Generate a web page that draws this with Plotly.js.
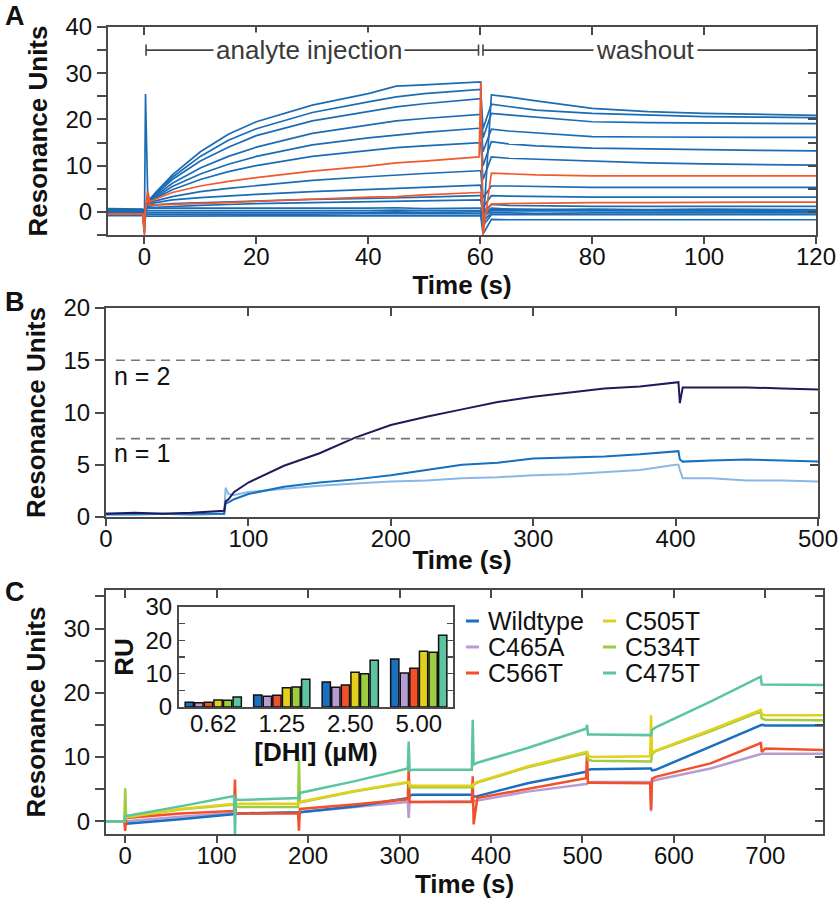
<!DOCTYPE html>
<html><head><meta charset="utf-8">
<script src="https://cdn.plot.ly/plotly-3.0.1.min.js"></script>
<style>html,body{margin:0;padding:0;background:#fff}#chart{width:838px;height:900px}</style>
</head><body><div id="chart"></div>
<script>
// ---------- Panel A: SPR sensorgrams (time in s, RU) ----------
const tA = [-6.5,-0.3,0,0.2,0.6,1,2,5,10,15,20,30,40,45,50,59.8,60.1,60.5,62,65,70,80,90,100,110,120];
const a1  = [0.5,0.4,-4.5,25.5,3,2.8,4.2,8,13,16.8,19.5,23.1,25.6,27.2,27.5,28.1,28.1,-4,25.3,24.9,24.0,22.4,21.7,21.3,21.1,20.9];
const a2  = [-0.2,-0.3,-1,1,2.5,2.7,4.0,7.5,12,15.5,18,21.5,23.8,24.9,25.6,26.5,26.5,18,23.3,22.8,22.0,21.3,20.9,20.6,20.5,20.4];
const a3  = [0.3,0.2,-0.5,0.5,2.4,2.6,3.8,7,11,14,16.5,19.7,21.8,22.7,23.4,24.5,24.5,16,21.3,21.0,20.5,19.5,19.3,19.2,19.1,19.1];
const a4  = [-0.4,-0.4,-0.8,0.3,2.3,2.5,3.5,6.2,9.5,12,14,17,18.9,19.7,20.2,21.1,21.1,13,17.9,17.5,17.1,16.3,16.2,16.1,16.1,16.1];
const a5  = [0.1,0.0,-0.6,0.4,2.2,2.4,3.2,5.5,8.2,10.3,12,14.5,16,16.6,17.2,18.1,18.1,10,15.2,14.7,14.3,13.8,13.6,13.4,13.3,13.2];
const a6  = [-0.6,-0.5,-0.7,0.2,2.1,2.3,3.0,4.8,7,8.7,10,12,13.3,13.9,14.3,15.0,15.0,7,11.9,11.6,11.4,10.9,10.6,10.4,10.2,10.1];
const a7  = [0.6,0.5,-0.3,0.5,1.9,2.0,2.4,3.3,4.4,5.1,5.7,6.8,7.6,8.0,8.3,8.9,8.9,3,5.6,5.6,5.5,5.3,5.3,5.3,5.3,5.3];
const a8  = [-0.1,-0.2,-0.4,0.3,1.7,1.8,2.0,2.6,3.1,3.5,3.8,4.4,4.9,5.1,5.4,5.8,5.8,1,3.5,3.4,3.3,3.2,3.2,3.2,3.2,3.2];
const a9  = [0.2,0.1,-0.5,0.3,1.2,1.3,1.5,1.8,2.0,2.2,2.4,2.7,2.9,3.0,3.2,3.5,3.5,0,1.6,1.4,1.3,1.2,1.2,1.2,1.2,1.2];
const a10 = [-0.3,-0.3,-0.6,0.2,0.9,1.0,1.0,1.2,1.4,1.6,1.8,2.0,2.2,2.3,2.4,2.6,2.6,-0.5,0.8,0.6,0.5,0.4,0.3,0.2,0.1,0.1];
const a11 = [0.7,0.6,0.2,0.6,0.8,0.8,0.7,0.7,0.7,0.8,0.7,0.7,0.8,0.9,0.7,0.8,0.8,-0.5,0.6,0.6,0.5,0.6,0.5,0.6,0.5,0.5];
const a12 = [0.3,0.3,-0.8,0.2,0.3,0.3,0.3,0.3,0.3,0.3,0.2,0.3,0.3,0.4,0.3,0.3,0.3,-1,0.2,0.2,0.2,0.1,0.2,0.1,0.2,0.2];
const a13 = [-0.1,-0.1,-1.5,-0.2,-0.1,-0.1,-0.1,-0.2,-0.1,-0.1,-0.2,-0.1,-0.1,0,-0.1,0,0,-2,-0.2,-0.2,-0.3,-0.2,-0.2,-0.3,-0.2,-0.2];
const a14 = [-0.5,-0.5,-2.5,-0.6,-0.5,-0.5,-0.5,-0.5,-0.6,-0.5,-0.5,-0.5,-0.4,-0.4,-0.5,-0.4,-0.4,-3,-0.6,-0.6,-0.6,-0.6,-0.6,-0.7,-0.6,-0.6];
const a15 = [-0.8,-0.8,-4.5,-0.9,-0.9,-0.9,-0.9,-0.9,-0.9,-0.9,-0.9,-0.9,-0.8,-0.8,-0.8,-0.8,-0.8,-4.8,-1.6,-1.7,-1.7,-1.7,-1.7,-1.8,-1.7,-1.7];
const aRed1 = [-0.5,-0.5,-5,1,4.5,2.2,2.8,4.2,5.6,6.6,7.4,8.8,9.9,10.6,11.0,11.9,28,-5,8.4,8.2,8.0,7.8,7.8,7.8,7.8,7.8];
const aRed2 = [-0.4,-0.4,-2,0.5,3.0,1.5,1.5,1.6,1.8,2.0,2.3,2.8,3.2,3.3,3.7,4.2,4.2,-1,1.7,1.8,1.9,2.0,2.0,2.1,2.1,2.1];
const phaseStart = [0.3, 60.5];
const phaseEnd   = [59.7, 120];
const phaseLabel = ['analyte injection', 'washout'];
const phaseLabelX = [29.5, 89.6];
const phaseY = 35;

// ---------- Panel B ----------
const tB = [0,20,40,60,83,84,86,90,100,125,150,175,200,225,250,275,300,325,350,375,400,402,403,405,425,450,475,500];
const bNavy  = [0.3,0.4,0.3,0.4,0.6,1.5,1.7,2.4,3.3,4.9,6.1,7.6,8.8,9.6,10.3,11.0,11.5,11.9,12.3,12.5,12.9,12.9,10.9,12.4,12.4,12.4,12.3,12.2];
const bMid   = [0.3,0.3,0.3,0.3,0.3,1.3,1.4,1.7,2.2,2.9,3.3,3.6,4.0,4.5,5.0,5.2,5.6,5.7,5.8,6.0,6.3,6.3,5.5,5.3,5.4,5.5,5.4,5.3];
const bLight = [0.2,0.2,0.3,0.2,0.3,2.8,2.2,2.1,2.4,2.7,3.0,3.2,3.4,3.5,3.7,3.8,4.0,4.1,4.3,4.5,5.0,5.0,4.5,3.7,3.7,3.5,3.5,3.4];
const refLevels = [15, 7.5];
const refLabels = ['n = 2', 'n = 1'];
const refLabelY = [13.5, 6.1];

// ---------- Panel C ----------
const tC = [-21,-1,0,1,60,119,120,121,125,189,190,191,250,309,310,311,315,379,380,381,385,440,504,505,506,510,574,575,576,580,640,694,695,696,700,763];
const seriesNames = ['Wildtype','C465A','C566T','C505T','C534T','C475T'];
const cWildtype = [0,0,-0.5,-0.4,0.3,1.0,1.0,1.1,1.2,1.3,1.3,1.4,2.3,3.6,3.6,4.0,4.1,4.1,4.0,3.8,3.9,5.9,7.7,7.7,8.0,8.1,8.2,8.2,7.9,8.0,11.6,15.0,15.0,15.0,14.9,14.9];
const cC465A    = [0,0,0,0,0.7,1.3,1.3,1.2,1.2,1.3,1.3,1.4,2.2,3.0,0.5,3.0,3.0,3.0,3.0,3.1,3.2,4.6,5.8,5.8,6.0,6.1,6.1,1.5,6.2,6.4,8.2,10.5,10.5,10.5,10.5,10.5];
const cC566T    = [0,0,-1.5,0.5,1.2,1.6,6.5,1.2,1.2,1.2,-1.5,1.9,2.6,3.4,8.3,3.0,3.0,3.0,7.0,-0.5,3.6,5.0,6.7,10.7,6.0,6.0,5.9,1.8,6.6,6.9,9.0,12.1,12.3,10.8,11.3,11.1];
const cC505T    = [0,0,0.3,0.6,1.9,2.7,2.7,2.6,2.7,2.7,2.7,3.0,4.7,6.1,6.1,5.6,5.5,5.5,5.5,5.8,6.1,8.5,10.8,10.8,10.2,10.0,10.1,16.5,10.6,11.0,14.2,17.3,17.3,16.6,16.5,16.5];
const cC534T    = [0,0,5.1,0.6,1.8,2.6,2.6,2.3,2.2,2.2,9.6,2.9,4.6,6.0,6.0,5.3,5.3,5.3,5.3,5.7,6.0,8.4,10.6,10.6,9.6,9.4,9.3,9.3,10.4,10.9,14.0,17.1,17.1,16.0,15.8,15.7];
const cC475T    = [0,0,0.8,0.8,2.3,3.9,-2,3.4,3.3,3.6,3.6,4.4,6.2,8.2,12.4,7.9,8.0,8.0,15.8,8.8,9.1,11.4,14.4,15.0,13.5,13.5,13.4,13.4,14.2,14.6,18.6,22.5,22.5,21.3,21.3,21.2];
const seriesColors = ['#1a6fbf','#b99bd3','#f2502a','#e3d01c','#9ccd3e','#5cc5a0'];

// inset bars
const dhiLabels = ['0.62','1.25','2.50','5.00'];
const ruWildtype = [1.4,3.6,7.5,14.4];
const ruC465A    = [1.3,3.2,5.9,10.2];
const ruC566T    = [1.4,3.5,6.6,11.6];
const ruC505T    = [2.1,5.8,10.4,16.7];
const ruC534T    = [2.0,6.0,10.0,16.4];
const ruC475T    = [3.0,8.3,14.0,21.5];

// ---------- build ----------
const F = 'Liberation Sans, Arial, sans-serif';
const AX = '#4a4a4a';
const TXT = '#111';
const traces = [];

const aBlues = [a1,a2,a3,a4,a5,a6,a7,a8,a9,a10,a11,a12,a13,a14,a15];
aBlues.forEach(v => traces.push({type:'scatter',mode:'lines',x:tA,y:v,xaxis:'x',yaxis:'y',line:{color:'#1b6cb5',width:1.7},showlegend:false,hoverinfo:'skip'}));
[aRed1,aRed2].forEach(v => traces.push({type:'scatter',mode:'lines',x:tA,y:v,xaxis:'x',yaxis:'y',line:{color:'#f15a2b',width:1.7},showlegend:false,hoverinfo:'skip'}));

[[bLight,'#8ab8e6'],[bMid,'#1570be'],[bNavy,'#1f1b5b']].forEach(([v,c]) =>
  traces.push({type:'scatter',mode:'lines',x:tB,y:v,xaxis:'x3',yaxis:'y3',line:{color:c,width:2},showlegend:false,hoverinfo:'skip'}));

const cSeries = [cWildtype,cC465A,cC566T,cC505T,cC534T,cC475T];
const drawOrder = [1,0,2,4,3,5];
drawOrder.forEach(i => traces.push({type:'scatter',mode:'lines',x:tC,y:cSeries[i],xaxis:'x5',yaxis:'y5',name:seriesNames[i],line:{color:seriesColors[i],width:2.5},showlegend:false,hoverinfo:'skip'}));

const ruSeries = [ruWildtype,ruC465A,ruC566T,ruC505T,ruC534T,ruC475T];
ruSeries.forEach((v,i) => traces.push({type:'bar',x:dhiLabels,y:v,xaxis:'x7',yaxis:'y7',name:seriesNames[i],marker:{color:seriesColors[i],line:{color:'#111',width:1.5}},showlegend:false,hoverinfo:'skip'}));

// dummy traces to activate overlay (mirror-tick) axes
[['x2','y2'],['x4','y4'],['x6','y6'],['x7','y8']].forEach(([xa,ya]) =>
  traces.push({type:'scatter',mode:'lines',x:[null],y:[null],xaxis:xa,yaxis:ya,showlegend:false,hoverinfo:'skip'}));

function xBase(dom, rng, dtick, anchor, title, extra){
  return Object.assign({domain:dom,range:rng,dtick:dtick,tick0:0,anchor:anchor,ticks:'outside',ticklen:7,tickwidth:2,tickcolor:AX,
    ticklabelstandoff:-8, ticklabeloverflow:'allow',
    showline:true,linewidth:2,linecolor:AX,mirror:true,showgrid:false,zeroline:false,
    tickfont:{family:F,size:24,color:TXT},title:{text:title,font:{family:F,size:26,color:TXT},standoff:0}},extra||{});
}
function yBase(dom, rng, dtick, minor, anchor, title, extra){
  return Object.assign({domain:dom,range:rng,dtick:dtick,tick0:0,anchor:anchor,ticks:'outside',ticklen:9,tickwidth:2,tickcolor:AX,
    minor: minor ? {dtick:minor,tick0:0,ticks:'outside',ticklen:9,tickwidth:2,tickcolor:AX,showgrid:false} : undefined,
    showline:true,linewidth:2,linecolor:AX,mirror:true,showgrid:false,zeroline:false,
    tickfont:{family:F,size:24,color:TXT},title:{text:title,font:{family:F,size:26,color:TXT},standoff:10}},extra||{});
}
function xOver(base, anchor, rng, dtick){
  return {overlaying:base,anchor:anchor,side:'top',range:rng,dtick:dtick,tick0:0,ticks:'inside',ticklen:8,tickwidth:2,tickcolor:AX,
    showticklabels:false,showline:false,showgrid:false,zeroline:false};
}
function yOver(base, anchor, rng, dtick){
  return {overlaying:base,anchor:anchor,side:'right',range:rng,dtick:dtick,tick0:0,ticks:'inside',ticklen:8,tickwidth:2,tickcolor:AX,
    showticklabels:false,showline:false,showgrid:false,zeroline:false};
}

const px = v => v/838, py = v => 1 - v/900;
const domA = {x:[px(108),px(816)], y:[py(235),py(27)]};
const domB = {x:[px(106),px(818)], y:[py(517),py(308)]};
const domC = {x:[px(106),px(823)], y:[py(834),py(590)]};
const domI = {x:[px(179),px(453)], y:[py(707),py(607)]};

const rA = {x:[-6.5,120], y:[-5,40]};
const rB = {x:[0,500], y:[0,20]};
const rC = {x:[-21,763], y:[-2,36]};

const layout = {
  width:838, height:900, margin:{l:0,r:0,t:0,b:0}, paper_bgcolor:'#fff', plot_bgcolor:'rgba(0,0,0,0)',
  showlegend:false, barmode:'group', bargap:0.16, bargroupgap:0.14,
  font:{family:F,color:TXT},
  xaxis: xBase(domA.x, rA.x, 20, 'y', '<b>Time (s)</b>'),
  yaxis: yBase(domA.y, rA.y, 10, 5, 'x', '<b>Resonance Units</b>'),
  xaxis2: xOver('x','y',rA.x,20),
  yaxis2: yOver('y','x',rA.y,5),
  xaxis3: xBase(domB.x, rB.x, 100, 'y3', '<b>Time (s)</b>'),
  yaxis3: yBase(domB.y, rB.y, 5, null, 'x3', '<b>Resonance Units</b>'),
  xaxis4: xOver('x3','y3',rB.x,100),
  yaxis4: yOver('y3','x3',rB.y,5),
  xaxis5: xBase(domC.x, rC.x, 100, 'y5', '<b>Time (s)</b>'),
  yaxis5: yBase(domC.y, rC.y, 10, 5, 'x5', '<b>Resonance Units</b>'),
  xaxis6: xOver('x5','y5',rC.x,100),
  yaxis6: yOver('y5','x5',rC.y,5),
  xaxis7: {domain:domI.x, anchor:'y7', type:'category', range:[-0.5,3.5], ticks:'', showline:true, linewidth:2, linecolor:AX, mirror:true,
           ticklabelstandoff:-6,
           showgrid:false, zeroline:false, tickfont:{family:F,size:24,color:TXT},
           title:{text:'<b>[DHI] (µM)</b>',font:{family:F,size:26,color:TXT},standoff:0}},
  yaxis7: {domain:domI.y, anchor:'x7', range:[0,30], dtick:10, tick0:0, ticks:'inside', ticklen:6, tickwidth:1.5, tickcolor:AX,
           minor:{dtick:5,tick0:0,ticks:'inside',ticklen:6,tickwidth:1.5,tickcolor:AX,showgrid:false},
           showline:true, linewidth:2, linecolor:AX, mirror:true, showgrid:false, zeroline:false,
           tickfont:{family:F,size:24,color:TXT}, title:{text:'<b>RU</b>',font:{family:F,size:26,color:TXT},standoff:4}},
  yaxis8: {overlaying:'y7', anchor:'x7', side:'right', range:[0,30], dtick:5, tick0:0, ticks:'inside', ticklen:6, tickwidth:1.5, tickcolor:AX,
           showticklabels:false, showline:false, showgrid:false, zeroline:false},
  shapes: [], annotations: []
};

// panel letters
[['A',16],['B',302],['C',592]].forEach(([t,y]) => layout.annotations.push({
  text:'<b>'+t+'</b>', xref:'paper', yref:'paper', x:px(3), y:py(y), xanchor:'left', yanchor:'middle',
  showarrow:false, font:{family:F,size:27,color:TXT}}));

// Panel A phase brackets
const gl = {color:'#444', width:1.6};
phaseStart.forEach((s,i) => {
  const e = phaseEnd[i];
  layout.shapes.push({type:'line', xref:'x', yref:'y', x0:s, x1:e, y0:phaseY, y1:phaseY, line:gl});
  layout.shapes.push({type:'line', xref:'x', yref:'y', x0:s, x1:s, y0:phaseY-1.2, y1:phaseY+1.2, line:gl});
  if (i === 0) layout.shapes.push({type:'line', xref:'x', yref:'y', x0:e, x1:e, y0:phaseY-1.2, y1:phaseY+1.2, line:gl});
  layout.annotations.push({text:phaseLabel[i], xref:'x', yref:'y', x:phaseLabelX[i], y:phaseY, showarrow:false,
    bgcolor:'#fff', borderpad:2, font:{family:F,size:26,color:'#3a3a3a'}});
});

// Panel B reference levels
refLevels.forEach((lv,i) => {
  layout.shapes.push({type:'line', xref:'x3 domain', yref:'y3', x0:0.014, x1:0.994, y0:lv, y1:lv, line:{color:'#777',width:1.6,dash:'9px,6px'}});
  layout.annotations.push({text:refLabels[i], xref:'x3', yref:'y3', x:4, y:refLabelY[i], xanchor:'left', showarrow:false,
    font:{family:F,size:25,color:TXT}});
});

// Panel C legend (2 columns x 3 rows)
const legCols = [466, 603], legRows = [621, 647, 673];
seriesNames.forEach((nm,i) => {
  const col = Math.floor(i/3), row = i%3;
  const x0 = legCols[col];
  layout.shapes.push({type:'line', xref:'paper', yref:'paper', x0:px(x0), x1:px(x0+13), y0:py(legRows[row]), y1:py(legRows[row]),
    line:{color:seriesColors[i], width:3}});
  layout.annotations.push({text:nm, xref:'paper', yref:'paper', x:px(x0+20), y:py(legRows[row]), xanchor:'left', yanchor:'middle',
    showarrow:false, font:{family:F,size:25,color:TXT}});
});

Plotly.newPlot('chart', traces, layout, {staticPlot:true, displayModeBar:false});
</script></body></html>
